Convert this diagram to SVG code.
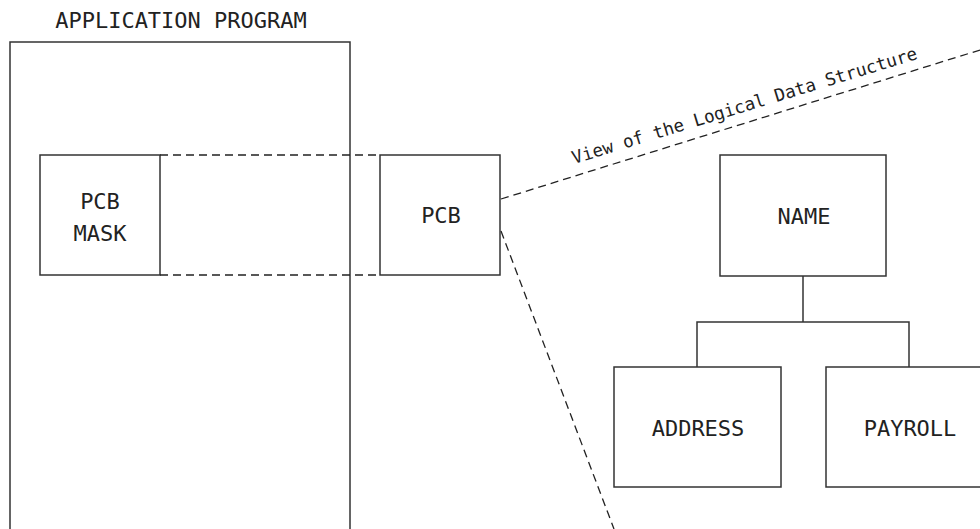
<svg xmlns="http://www.w3.org/2000/svg" width="980" height="529" viewBox="0 0 980 529">
  <style>
    .box { fill: #fff; stroke: #333; stroke-width: 1.5; }
    .line { fill: none; stroke: #333; stroke-width: 1.5; }
    .dash { fill: none; stroke: #222; stroke-width: 1.3; stroke-dasharray: 8 5; }
    .lbl { font-family: "DejaVu Sans Mono", "Liberation Mono", monospace; font-size: 22px; fill: #222; text-anchor: middle; }
    .note { font-family: "DejaVu Sans Mono", "Liberation Mono", monospace; font-size: 17.6px; fill: #222; }
  </style>

  <g id="application-program">
    <rect class="box" x="10" y="42" width="340" height="520"/>
    <text class="lbl" x="181" y="28">APPLICATION PROGRAM</text>
  </g>

  <g id="pcb-mask">
    <rect class="box" x="40" y="155" width="120" height="120"/>
    <text class="lbl" x="100" y="209">PCB</text>
    <text class="lbl" x="100" y="241">MASK</text>
  </g>

  <g id="pcb">
    <rect class="box" x="380" y="155" width="120" height="120"/>
    <text class="lbl" x="441" y="223">PCB</text>
  </g>

  <g id="name">
    <rect class="box" x="720" y="155" width="166" height="121"/>
    <text class="lbl" x="804" y="224">NAME</text>
  </g>

  <g id="address">
    <rect class="box" x="614" y="367" width="167" height="120"/>
    <text class="lbl" x="698" y="436">ADDRESS</text>
  </g>

  <g id="payroll">
    <rect class="box" x="826" y="367" width="170" height="120"/>
    <text class="lbl" x="910" y="436">PAYROLL</text>
  </g>

  <g id="connectors">
    <!-- mask-to-PCB projection -->
    <line class="dash" x1="160" y1="155" x2="380" y2="155"/>
    <line class="dash" x1="160" y1="275" x2="380" y2="275"/>
    <!-- view fan from the PCB -->
    <line class="dash" x1="501" y1="199" x2="980" y2="50"/>
    <line class="dash" x1="501" y1="231" x2="614" y2="529"/>
    <!-- hierarchy -->
    <polyline class="line" points="803,276 803,322"/>
    <polyline class="line" points="697,367 697,322 909,322 909,367"/>
  </g>

  <text class="note" transform="translate(574,164) rotate(-17)">View of the Logical Data Structure</text>
</svg>
